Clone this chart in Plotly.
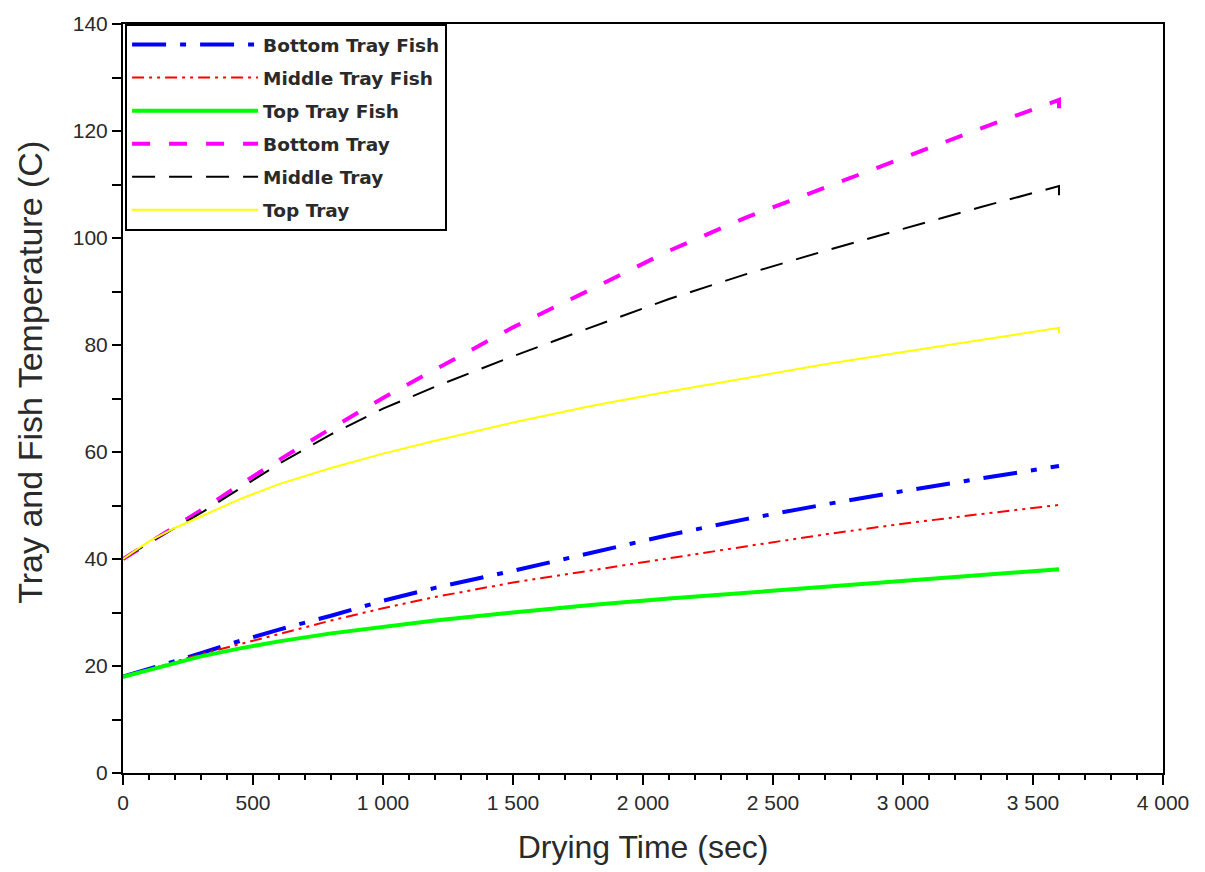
import plotly.graph_objects as go

# ---- data ----
time_s = [0, 100, 200, 300, 450, 600, 800, 1000, 1200, 1500, 1800, 2100, 2400, 2700, 3000, 3300, 3600, 3600]
bottom_tray_fish = [18.0, 19.4, 20.9, 22.4, 24.7, 26.8, 29.4, 32.2, 34.6, 37.8, 41.2, 44.5, 47.5, 50.2, 52.7, 55.1, 57.4, 57.4]
middle_tray_fish = [18.0, 19.3, 20.8, 22.2, 24.1, 26.0, 28.5, 30.8, 32.9, 35.6, 37.9, 40.1, 42.4, 44.6, 46.6, 48.4, 50.1, 50.1]
top_tray_fish = [18.0, 19.3, 20.6, 21.8, 23.3, 24.6, 26.1, 27.3, 28.5, 30.0, 31.4, 32.6, 33.7, 34.9, 36.0, 37.1, 38.1, 38.1]
bottom_tray = [40.0, 43.0, 46.0, 49.1, 53.9, 58.5, 64.4, 70.1, 75.4, 83.3, 90.4, 97.6, 103.9, 109.4, 114.9, 120.5, 125.8, 122.7]
middle_tray = [40.0, 43.0, 45.8, 48.6, 53.2, 57.8, 63.3, 68.1, 72.2, 77.9, 83.3, 88.6, 93.3, 97.6, 101.7, 105.8, 109.7, 107.3]
top_tray = [40.0, 43.3, 45.8, 48.0, 51.2, 54.0, 57.0, 59.7, 62.1, 65.5, 68.6, 71.3, 73.9, 76.4, 78.7, 81.0, 83.2, 82.2]

x_tick_vals = [0, 500, 1000, 1500, 2000, 2500, 3000, 3500, 4000]
x_tick_text = ["0", "500", "1 000", "1 500", "2 000", "2 500", "3 000", "3 500", "4 000"]
y_tick_vals = [0, 20, 40, 60, 80, 100, 120, 140]

series = [
    ("Bottom Tray Fish", bottom_tray_fish, "#0000ff", 4, "34px,14px,6px,14px"),
    ("Middle Tray Fish", middle_tray_fish, "#ff0000", 2, "12px,5px,3px,5px,3px,5px"),
    ("Top Tray Fish", top_tray_fish, "#00ff00", 4, "solid"),
    ("Bottom Tray", bottom_tray, "#ff00ff", 4, "18px,19px"),
    ("Middle Tray", middle_tray, "#000000", 2, "23px,14px"),
    ("Top Tray", top_tray, "#ffff00", 2, "solid"),
]

fig = go.Figure()
for i, (name, vals, color, width, dash) in enumerate(series):
    fig.add_trace(go.Scatter(
        x=time_s, y=vals, mode="lines", name=name, legendgroup=f"g{i}",
        line=dict(color=color, width=width, dash=dash),
    ))

axis_font = dict(family="Liberation Sans, Arial, sans-serif", size=21, color="#2a2a2a")
xtitle_font = dict(family="Liberation Sans, Arial, sans-serif", size=32, color="#2a2a2a")
ytitle_font = dict(family="Liberation Sans, Arial, sans-serif", size=34, color="#2a2a2a")

fig.update_layout(
    width=1205, height=872,
    margin=dict(l=123, r=42, t=18, b=99),
    paper_bgcolor="white", plot_bgcolor="white",
    showlegend=True,
    legend=dict(
        x=0.002, y=1.0, xanchor="left", yanchor="top",
        bgcolor="white", bordercolor="black", borderwidth=2,
        font=dict(family="DejaVu Sans", size=18.5, color="#2a2a2a", weight="bold"),
        itemwidth=126, traceorder="grouped", tracegroupgap=6,
    ),
    xaxis=dict(
        range=[0, 4000], tickvals=x_tick_vals, ticktext=x_tick_text,
        ticks="outside", ticklen=10, tickwidth=2, tickcolor="black",
        minor=dict(dtick=100, ticks="outside", ticklen=5, tickwidth=2, tickcolor="black"),
        showline=True, linecolor="black", linewidth=2, mirror=True,
        showgrid=False, zeroline=False, tickfont=axis_font,
        title=dict(text="Drying Time (sec)", font=xtitle_font, standoff=22),
    ),
    yaxis=dict(
        range=[0, 140], tickvals=y_tick_vals,
        ticks="outside", ticklen=9, tickwidth=2, tickcolor="black",
        minor=dict(dtick=10, ticks="outside", ticklen=9, tickwidth=2, tickcolor="black"),
        showline=True, linecolor="black", linewidth=2, mirror=True,
        showgrid=False, zeroline=False, tickfont=axis_font,
    ),
    annotations=[dict(
        text="Tray and Fish Temperature (C)", textangle=-90,
        xref="paper", yref="paper", x=-0.089, y=0.535,
        xanchor="center", yanchor="middle", showarrow=False, font=ytitle_font,
    )],
)

fig.write_html("out.html")
